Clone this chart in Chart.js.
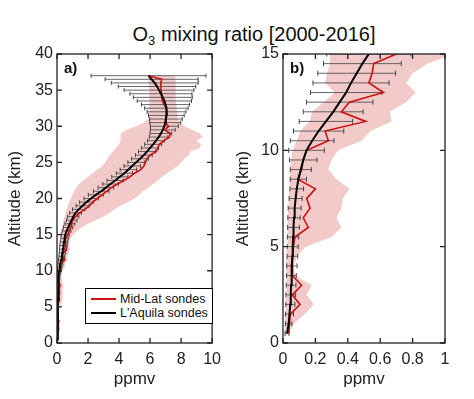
<!DOCTYPE html>
<html>
<head>
<meta charset="utf-8">
<script src="https://cdn.jsdelivr.net/npm/chart.js@4/dist/chart.umd.min.js"></script>
<style>
  body { margin: 0; background: #fff; font-family: 'Liberation Sans', Arial, sans-serif; color: #111; }
  #title { position: absolute; left: 0; top: 22px; width: 508px; text-align: center; font-size: 20px; line-height: 24px; }
  #title sub { font-size: 13px; vertical-align: -4px; line-height: 0; }
  .panel { position: absolute; top: 0; }
  #legend { position: absolute; left: 85px; top: 288px; width: 128px; height: 36px; box-sizing: border-box;
            border: 1.5px solid #000; background: #fff; font-size: 12.5px; }
  #legend .row { position: absolute; left: 34px; white-space: nowrap; line-height: 14px; }
  #legend .sw { position: absolute; left: -29px; top: 6px; width: 25px; height: 2px; }
</style>
</head>
<body>
<div id="title">O<sub>3</sub> mixing ratio [2000-2016]</div>
<canvas class="panel" id="chartA" width="228" height="399" style="left:0"></canvas>
<canvas class="panel" id="chartB" width="246" height="399" style="left:228px"></canvas>
<div id="legend">
  <div class="row" style="top:3px"><span class="sw" style="background:#cc1111"></span>Mid-Lat sondes</div>
  <div class="row" style="top:17px"><span class="sw" style="background:#000"></span>L'Aquila sondes</div>
</div>
<script>
// altitude levels (km)
const altitude = [0.5, 1, 1.5, 2, 2.5, 3, 3.5, 4, 4.5, 5, 5.5, 6, 6.5, 7, 7.5, 8, 8.5, 9, 9.5, 10,
  10.5, 11, 11.5, 12, 12.5, 13, 13.5, 14, 14.5, 15, 15.5, 16, 16.5, 17, 17.5, 18, 18.5, 19, 19.5, 20,
  20.5, 21, 21.5, 22, 22.5, 23, 23.5, 24, 24.5, 25, 25.5, 26, 26.5, 27, 27.5, 28, 28.5, 29, 29.5, 30,
  30.5, 31, 31.5, 32, 32.5, 33, 33.5, 34, 34.5, 35, 35.5, 36, 36.5, 37];

// L'Aquila sondes mean and std (ppmv)
const laquilaMean = [0.025, 0.035, 0.04, 0.045, 0.048, 0.05, 0.052, 0.055, 0.058, 0.06, 0.062, 0.065, 0.068, 0.072, 0.078, 0.085, 0.095, 0.11, 0.125, 0.145,
  0.18, 0.22, 0.265, 0.31, 0.35, 0.39, 0.42, 0.455, 0.49, 0.53, 0.62, 0.72, 0.83, 0.95, 1.05, 1.2, 1.4, 1.65, 1.9, 2.2,
  2.5, 2.85, 3.15, 3.45, 3.75, 4.05, 4.35, 4.6, 4.85, 5.1, 5.35, 5.6, 5.8, 6.0, 6.2, 6.38, 6.55, 6.7, 6.82, 6.92,
  6.98, 7.02, 7.05, 7.06, 7.05, 7.0, 6.92, 6.82, 6.7, 6.58, 6.45, 6.3, 6.1, 5.9];
const laquilaSd = [0.012, 0.02, 0.025, 0.028, 0.03, 0.03, 0.03, 0.032, 0.033, 0.034, 0.035, 0.036, 0.038, 0.04, 0.04, 0.042, 0.05, 0.065, 0.085, 0.11,
  0.135, 0.155, 0.165, 0.185, 0.205, 0.22, 0.235, 0.24, 0.24, 0.26, 0.28, 0.3, 0.32, 0.34, 0.36, 0.38, 0.4, 0.42, 0.44, 0.46,
  0.48, 0.5, 0.5, 0.5, 0.52, 0.52, 0.52, 0.53, 0.53, 0.53, 0.54, 0.54, 0.54, 0.55, 0.55, 0.55, 0.6, 0.7, 0.8, 0.9,
  1.0, 1.05, 1.15, 1.25, 1.4, 1.55, 1.75, 1.9, 2.0, 2.25, 2.5, 2.8, 3.0, 3.7];

// Mid-Lat sondes mean and spread (ppmv)
const midlatMean = [0.035, 0.04, 0.045, 0.105, 0.057, 0.115, 0.057, 0.057, 0.06, 0.064, 0.074, 0.156, 0.125, 0.167, 0.146, 0.2, 0.09, 0.115, 0.125, 0.146,
  0.28, 0.26, 0.51, 0.36, 0.41, 0.62, 0.53, 0.55, 0.56, 0.7, 0.78, 0.88, 0.95, 1.0, 1.2, 1.45, 1.8, 2.1, 2.3, 2.6,
  2.9, 3.2, 3.5, 3.9, 4.3, 4.7, 5.0, 5.4, 5.6, 5.7, 5.8, 6.0, 6.4, 6.5, 6.6, 6.9, 7.25, 7.3, 6.95, 7.2,
  6.95, 7.0, 7.1, 7.1, 7.05, 6.9, 6.8, 6.75, 6.75, 6.7, 6.7, 6.7, 6.75, 5.9];
const midlatLow = [0.01, 0.012, 0.015, 0.018, 0.02, 0.02, 0.02, 0.02, 0.022, 0.025, 0.025, 0.028, 0.03, 0.032, 0.035, 0.04, 0.04, 0.045, 0.05, 0.06,
  0.085, 0.105, 0.165, 0.18, 0.25, 0.32, 0.26, 0.27, 0.29, 0.29, 0.3, 0.32, 0.36, 0.42, 0.5, 0.55, 0.62, 0.7, 0.8, 0.9,
  1.0, 1.1, 1.25, 1.4, 1.7, 2.0, 2.3, 2.6, 2.9, 3.1, 3.25, 3.4, 3.6, 3.8, 4.0, 4.1, 4.1, 4.1, 4.5, 5.1,
  5.6, 5.9, 5.95, 5.95, 5.95, 5.95, 5.95, 5.95, 5.95, 5.95, 5.9, 5.9, 5.9, 5.85];
const midlatHigh = [0.035, 0.065, 0.135, 0.19, 0.146, 0.177, 0.075, 0.065, 0.085, 0.14, 0.3, 0.36, 0.33, 0.36, 0.37, 0.41, 0.33, 0.28, 0.3, 0.34,
  0.485, 0.54, 0.67, 0.66, 0.76, 0.82, 0.76, 0.8, 0.89, 1.05, 1.3, 1.6, 2.0, 2.5, 3.0, 3.4, 3.7, 4.1, 4.6, 5.0,
  5.3, 5.5, 5.9, 6.2, 6.5, 6.8, 7.1, 7.45, 7.8, 8.0, 8.2, 8.5, 8.6, 9.2, 9.3, 9.0, 9.4, 9.2, 8.7, 8.2,
  7.95, 7.8, 7.75, 7.75, 7.7, 7.7, 7.65, 7.65, 7.65, 7.65, 7.65, 7.65, 7.65, 7.6];

// axis ranges: [min, max, step]
const xRangeA = [0, 10, 2];
const yRangeA = [0, 40, 5];
const xRangeB = [0, 1, 0.2];
const yRangeB = [0, 15, 5];

const FONT = "'Liberation Sans', Arial, sans-serif";

// inside ticks on all four sides, frame box and panel letter
const frameTicks = {
  id: 'frameTicks',
  afterDatasetsDraw(chart, args, opts) {
    const { ctx, chartArea: { left, right, top, bottom }, scales: { x, y } } = chart;
    ctx.save();
    ctx.strokeStyle = '#222';
    ctx.lineWidth = 1.3;
    ctx.strokeRect(left, top, right - left, bottom - top);
    ctx.beginPath();
    x.ticks.forEach(t => {
      const px = x.getPixelForValue(t.value);
      ctx.moveTo(px, bottom); ctx.lineTo(px, bottom - 5);
      ctx.moveTo(px, top); ctx.lineTo(px, top + 5);
    });
    y.ticks.forEach(t => {
      const py = y.getPixelForValue(t.value);
      ctx.moveTo(left, py); ctx.lineTo(left + 5, py);
      ctx.moveTo(right, py); ctx.lineTo(right - 5, py);
    });
    ctx.stroke();
    ctx.fillStyle = '#111';
    ctx.font = 'bold 15px ' + FONT;
    ctx.textBaseline = 'alphabetic';
    ctx.fillText(opts.label, left + 7, top + 19);
    ctx.restore();
  }
};

function buildDatasets(capRadius) {
  const lineBlack = altitude.map((a, i) => ({ x: laquilaMean[i], y: a }));
  const lineRed = altitude.map((a, i) => ({ x: midlatMean[i], y: a }));
  const bars = [];
  altitude.forEach((a, i) => {
    bars.push({ x: laquilaMean[i] - laquilaSd[i], y: a });
    bars.push({ x: laquilaMean[i] + laquilaSd[i], y: a });
    bars.push({ x: null, y: null });
  });
  const band = altitude.map((a, i) => ({ x: midlatLow[i], y: a }))
    .concat(altitude.map((a, i) => ({ x: midlatHigh[i], y: a })).reverse());
  return [
    { label: "L'Aquila sondes", data: lineBlack, showLine: true, borderColor: '#000', borderWidth: 2, pointRadius: 0 },
    { label: 'Mid-Lat sondes', data: lineRed, showLine: true, borderColor: '#cc1111', borderWidth: 1.6, pointRadius: 0 },
    { label: 'sd', data: bars, showLine: true, spanGaps: false, borderColor: '#555', borderWidth: 0.9,
      pointStyle: 'line', rotation: 90, pointRadius: capRadius, pointBorderColor: '#444', pointBorderWidth: 1 },
    { label: 'band', data: band, showLine: true, fill: 'shape', backgroundColor: '#f2caca', borderWidth: 0, pointRadius: 0 }
  ];
}

function makeChart(id, xRange, yRange, yWidth, padRight, capRadius, letter) {
  const tickFont = { family: FONT, size: 16 };
  const titleFont = { family: FONT, size: 17 };
  return new Chart(document.getElementById(id), {
    type: 'scatter',
    data: { datasets: buildDatasets(capRadius) },
    options: {
      responsive: false,
      animation: false,
      events: [],
      layout: { padding: { top: 54, right: padRight, bottom: 0, left: 0 } },
      plugins: { legend: { display: false }, tooltip: { enabled: false }, frameTicks: { label: letter } },
      scales: {
        x: {
          type: 'linear', min: xRange[0], max: xRange[1],
          ticks: { stepSize: xRange[2], font: tickFont, color: '#222', padding: 7, maxRotation: 0, autoSkip: false,
                   callback: v => String(Number(v.toFixed(2))) },
          grid: { display: false, drawTicks: false },
          border: { display: false },
          title: { display: true, text: 'ppmv', font: titleFont, color: '#222', padding: { bottom: 9, top: 0 } },
          afterFit: s => { s.height = 56; }
        },
        y: {
          type: 'linear', min: yRange[0], max: yRange[1],
          ticks: { stepSize: yRange[2], font: tickFont, color: '#222', padding: 4, autoSkip: false },
          grid: { display: false, drawTicks: false },
          border: { display: false },
          title: { display: true, text: 'Altitude (km)', font: titleFont, color: '#222', padding: { top: 5, bottom: 0 } },
          afterFit: s => { s.width = yWidth; }
        }
      }
    },
    plugins: [frameTicks]
  });
}

makeChart('chartA', xRangeA, yRangeA, 57, 6, 2, 'a)');
makeChart('chartB', xRangeB, yRangeB, 55, 29, 2.5, 'b)');
</script>
</body>
</html>
